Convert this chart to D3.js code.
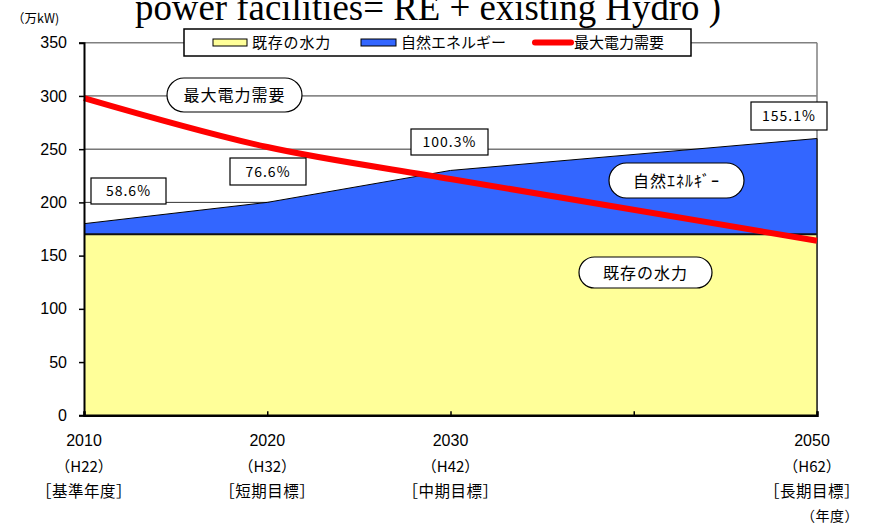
<!DOCTYPE html>
<html><head><meta charset="utf-8">
<script src="https://cdn.jsdelivr.net/npm/d3@7"></script>
<style>
body{margin:0;background:#fff;}
text{font-family:"Noto Sans CJK JP","Liberation Sans",sans-serif;}
</style></head>
<body><svg id="c" width="877" height="526"></svg>
<script>
// ---- data ----
const years = [2010, 2020, 2030, 2050];
const hydro = [170, 170, 170, 170];          // 既存の水力
const renewable = [10, 30, 60, 90];          // 自然エネルギー (stacked on hydro)
const demand = [298, 252, 222, 164];         // 最大電力需要
const ratioLabels = ["58.6%", "76.6%", "100.3%", "155.1%"];
const yTicks = [0, 50, 100, 150, 200, 250, 300, 350];
const xTickYears = [2010, 2020, 2030, 2040, 2050];
const xLabelYears = [2010, 2020, 2030, 2050];
const xLabelHeisei = ["（H22）", "（H32）", "（H42）", "（H62）"];
const xLabelGoal = ["［基準年度］", "［短期目標］", "［中期目標］", "［長期目標］"];
const seriesNames = ["既存の水力", "自然エネルギー", "最大電力需要"];

const svg = d3.select("#c");
const L = 84, R = 817, T = 42.7, B = 415.3;
const x = d3.scaleLinear().domain([2010, 2050]).range([L, R]);
const y = d3.scaleLinear().domain([0, 350]).range([B, T]);

const rows = years.map((yr, i) => ({yr, h: hydro[i], t: hydro[i] + renewable[i], d: demand[i]}));

// title (cut off at top, as in the source image)
svg.append("text").attr("x", 135).attr("y", 20)
  .style("font-family", "'Liberation Serif',serif").style("font-size", "37px")
  .attr("textLength", 586).attr("lengthAdjust", "spacingAndGlyphs")
  .text("power facilities= RE + existing Hydro )");

svg.append("text").attr("x", 12).attr("y", 23).style("font-size", "12.5px").text("（万kW)");

// gridlines
svg.append("g").selectAll("line").data(yTicks.filter(v => v > 0)).join("line")
  .attr("x1", L).attr("x2", R).attr("y1", d => y(d)).attr("y2", d => y(d))
  .attr("stroke", d => d === 350 ? "#808080" : "#333").attr("stroke-width", d => d === 350 ? 1.5 : 1);
svg.append("line").attr("x1", R).attr("x2", R).attr("y1", y(350)).attr("y2", y(0))
  .attr("stroke", "#808080").attr("stroke-width", 1.5);

// areas
const areaH = d3.area().x(d => x(d.yr)).y0(y(0)).y1(d => y(d.h));
const areaT = d3.area().x(d => x(d.yr)).y0(d => y(d.h)).y1(d => y(d.t));
svg.append("path").datum(rows).attr("d", areaT).attr("fill", "#3366FF");
svg.append("path").datum(rows).attr("d", areaH).attr("fill", "#FFFF99");
svg.append("path").datum(rows).attr("d", d3.line().x(d => x(d.yr)).y(d => y(d.t)))
  .attr("fill", "none").attr("stroke", "#000").attr("stroke-width", 1);
svg.append("path").datum(rows).attr("d", d3.line().x(d => x(d.yr)).y(d => y(d.h)))
  .attr("fill", "none").attr("stroke", "#111").attr("stroke-width", 2);
svg.append("line").attr("x1", R).attr("x2", R).attr("y1", y(rows[3].t)).attr("y2", y(0))
  .attr("stroke", "#222").attr("stroke-width", 1.5);

// demand line
svg.append("path").datum(rows)
  .attr("d", d3.line().x(d => x(d.yr)).y(d => y(d.d)).curve(d3.curveMonotoneX))
  .attr("fill", "none").attr("stroke", "#FF0000").attr("stroke-width", 6);

// axes
const yAxis = svg.append("g").attr("transform", `translate(${L},0)`)
  .call(d3.axisLeft(y).tickValues(yTicks).tickSize(5).tickPadding(12));
yAxis.select(".domain").attr("stroke", "#000").attr("stroke-width", 2);
yAxis.selectAll(".tick line").attr("stroke-width", 1.5);
yAxis.selectAll("text").style("font-size", "16px").style("font-family", "'Liberation Sans',sans-serif").attr("fill", "#000");

const xAxis = svg.append("g").attr("transform", `translate(0,${B})`)
  .call(d3.axisBottom(x).tickValues(xTickYears).tickSize(-4).tickFormat(""));
xAxis.select(".domain").attr("stroke", "#000").attr("stroke-width", 2.5);
xAxis.selectAll(".tick line").attr("stroke-width", 1.5);

// x labels
const labOff = [0, 0, 0, -5];
const xl = svg.append("g").selectAll("g").data(xLabelYears).join("g")
  .attr("transform", (d, i) => `translate(${x(d) + labOff[i]},0)`);
xl.append("text").attr("y", 446).attr("text-anchor", "middle").style("font-size", "16px")
  .style("font-family", "'Liberation Sans',sans-serif").text(d => d);
xl.append("text").attr("y", 472).attr("text-anchor", "middle").style("font-size", "15px").text((d, i) => xLabelHeisei[i]);
xl.append("text").attr("y", 497).attr("text-anchor", "middle").style("font-size", "15.5px")
  .style("letter-spacing", "0.5px").text((d, i) => xLabelGoal[i]);
svg.append("text").attr("x", 830).attr("y", 521).attr("text-anchor", "middle").style("font-size", "14px")
  .style("letter-spacing", "0.5px").text("（年度）");

// ratio boxes
const ratioBoxes = [[91, 178, 75, 26], [230, 158, 76, 27], [411, 129, 77, 26], [751, 102, 76, 28]];
ratioBoxes.forEach((b, i) => {
  svg.append("rect").attr("x", b[0]).attr("y", b[1]).attr("width", b[2]).attr("height", b[3])
    .attr("fill", "#fff").attr("stroke", "#000").attr("stroke-width", 1.2);
  svg.append("text").attr("x", b[0] + b[2] / 2).attr("y", b[1] + b[3] / 2 + 5).attr("text-anchor", "middle")
    .style("font-size", "14px").style("letter-spacing", "1px").text(ratioLabels[i]);
});

// rounded label boxes
const pills = [
  {t: "最大電力需要", b: [167, 78, 135, 34]},
  {t: "自然ｴﾈﾙｷﾞｰ", b: [609, 163, 135, 35]},
  {t: "既存の水力", b: [579, 257, 133, 31]}
];
pills.forEach(p => {
  const b = p.b;
  svg.append("rect").attr("x", b[0]).attr("y", b[1]).attr("width", b[2]).attr("height", b[3])
    .attr("rx", b[3] / 2).attr("fill", "#fff").attr("stroke", "#000").attr("stroke-width", 1.2);
  svg.append("text").attr("x", b[0] + b[2] / 2).attr("y", b[1] + b[3] / 2 + 6).attr("text-anchor", "middle")
    .style("font-size", "16px").style("letter-spacing", "1px").text(p.t);
});

// legend
const lg = svg.append("g");
lg.append("rect").attr("x", 184).attr("y", 29).attr("width", 507).attr("height", 27)
  .attr("fill", "#fff").attr("stroke", "#000").attr("stroke-width", 1.5);
lg.append("rect").attr("x", 213).attr("y", 39).attr("width", 34).attr("height", 7)
  .attr("fill", "#FFFF99").attr("stroke", "#000").attr("stroke-width", 1);
lg.append("text").attr("x", 252).attr("y", 48).style("font-size", "15px").style("letter-spacing", "0.8px").text(seriesNames[0]);
lg.append("rect").attr("x", 361).attr("y", 39).attr("width", 35).attr("height", 7)
  .attr("fill", "#3366FF").attr("stroke", "#000").attr("stroke-width", 1);
lg.append("text").attr("x", 401).attr("y", 48).style("font-size", "15px").text(seriesNames[1]);
lg.append("line").attr("x1", 535).attr("x2", 571).attr("y1", 42.5).attr("y2", 42.5)
  .attr("stroke", "#FF0000").attr("stroke-width", 6).attr("stroke-linecap", "round");
lg.append("text").attr("x", 574).attr("y", 48).style("font-size", "15px").text(seriesNames[2]);
</script></body></html>
